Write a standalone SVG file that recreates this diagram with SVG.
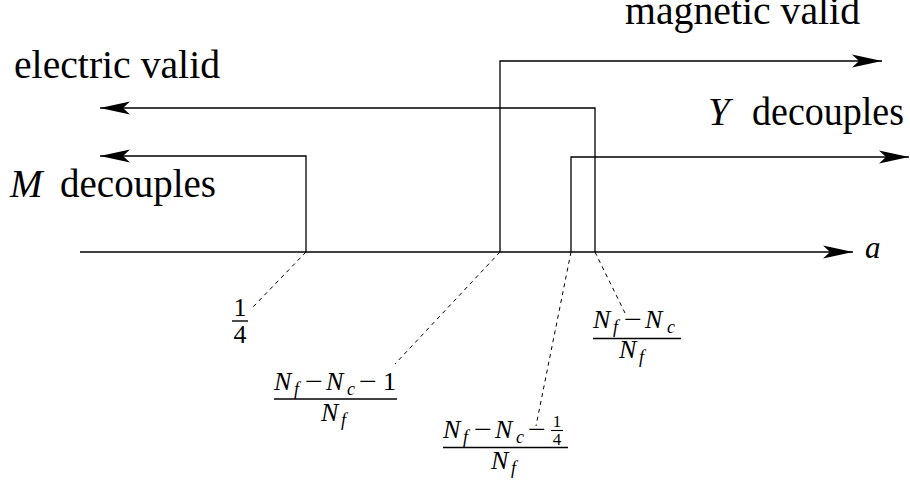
<svg xmlns="http://www.w3.org/2000/svg" width="910" height="482" viewBox="0 0 910 482">
<style>
.ln{fill:none;stroke:#000;stroke-width:1.3}
.dl{fill:none;stroke:#000;stroke-width:1;stroke-dasharray:4 4}
text{font-family:'Liberation Serif','Times New Roman',serif;fill:#000}
.big{font-size:39px}
.it{font-style:italic}
.m{font-size:26px}
.s{font-size:18px;font-style:italic}
.bar{stroke:#000;stroke-width:1.4}
</style>
<defs>
<marker id="ah" markerUnits="userSpaceOnUse" markerWidth="32" markerHeight="16" viewBox="-31 -8 32 16" refX="0" refY="0" orient="auto">
<path d="M0 0 L-30 -6.5 L-23 0 L-30 6.5 Z" fill="#000"/>
</marker>
</defs>
<g id="connectors">
<path class="ln" d="M80 252 H853" marker-end="url(#ah)"/>
<path class="ln" d="M306 252 V156 H100" marker-end="url(#ah)"/>
<path class="ln" d="M595 252 V108 H100" marker-end="url(#ah)"/>
<path class="ln" d="M500 252 V61 H882" marker-end="url(#ah)"/>
<path class="ln" d="M571 252 V157 H909" marker-end="url(#ah)"/>
<path class="dl" d="M306 252 L253 307"/>
<path class="dl" d="M500 252 L395 364"/>
<path class="dl" d="M571 252 L536 426"/>
<path class="dl" d="M595 252 L625 313"/>
</g>
<g id="label-electric"><text class="big" x="14" y="78" textLength="206" lengthAdjust="spacingAndGlyphs">electric valid</text></g>
<g id="label-magnetic"><text class="big" x="625" y="24" textLength="235" lengthAdjust="spacingAndGlyphs">magnetic valid</text></g>
<g id="label-M"><text class="big it" x="10" y="197">M</text><text class="big" x="60" y="197" textLength="156" lengthAdjust="spacingAndGlyphs">decouples</text></g>
<g id="label-Y"><text class="big it" x="708" y="125">Y</text><text class="big" x="752" y="125" textLength="152" lengthAdjust="spacingAndGlyphs">decouples</text></g>
<g id="label-a"><text class="it" font-size="31" x="865" y="258">a</text></g>
<g id="frac-quarter">
<text class="m" x="240" y="316" text-anchor="middle">1</text>
<line class="bar" x1="232" y1="321" x2="248" y2="321"/>
<text class="m" x="240" y="343" text-anchor="middle">4</text>
</g>
<g id="frac-2">
<text class="m it" x="274" y="390">N</text><text class="s" x="294" y="395">f</text>
<text class="m" x="305" y="390" textLength="18" lengthAdjust="spacingAndGlyphs">−</text>
<text class="m it" x="326" y="390">N</text><text class="s" x="347" y="395">c</text>
<text class="m" x="359" y="390" textLength="18" lengthAdjust="spacingAndGlyphs">−</text>
<text class="m" x="383" y="390">1</text>
<line class="bar" x1="274" y1="399" x2="397" y2="399"/>
<text class="m it" x="321" y="421">N</text><text class="s" x="341" y="426">f</text>
</g>
<g id="frac-3">
<text class="m it" x="443" y="438">N</text><text class="s" x="463" y="443">f</text>
<text class="m" x="474" y="438" textLength="18" lengthAdjust="spacingAndGlyphs">−</text>
<text class="m it" x="495" y="438">N</text><text class="s" x="516" y="443">c</text>
<text class="m" x="528" y="438" textLength="18" lengthAdjust="spacingAndGlyphs">−</text>
<text font-size="17" x="557" y="427" text-anchor="middle">1</text>
<line class="bar" x1="551" y1="430.5" x2="563" y2="430.5" style="stroke-width:1.1"/>
<text font-size="17" x="557" y="445" text-anchor="middle">4</text>
<line class="bar" x1="443" y1="447.5" x2="568" y2="447.5"/>
<text class="m it" x="491" y="469">N</text><text class="s" x="511" y="474">f</text>
</g>
<g id="frac-4">
<text class="m it" x="593" y="328">N</text><text class="s" x="613" y="333">f</text>
<text class="m" x="624" y="328" textLength="18" lengthAdjust="spacingAndGlyphs">−</text>
<text class="m it" x="645" y="328">N</text><text class="s" x="667" y="333">c</text>
<line class="bar" x1="593" y1="338.5" x2="681" y2="338.5"/>
<text class="m it" x="619" y="358">N</text><text class="s" x="639" y="363">f</text>
</g>
</svg>
